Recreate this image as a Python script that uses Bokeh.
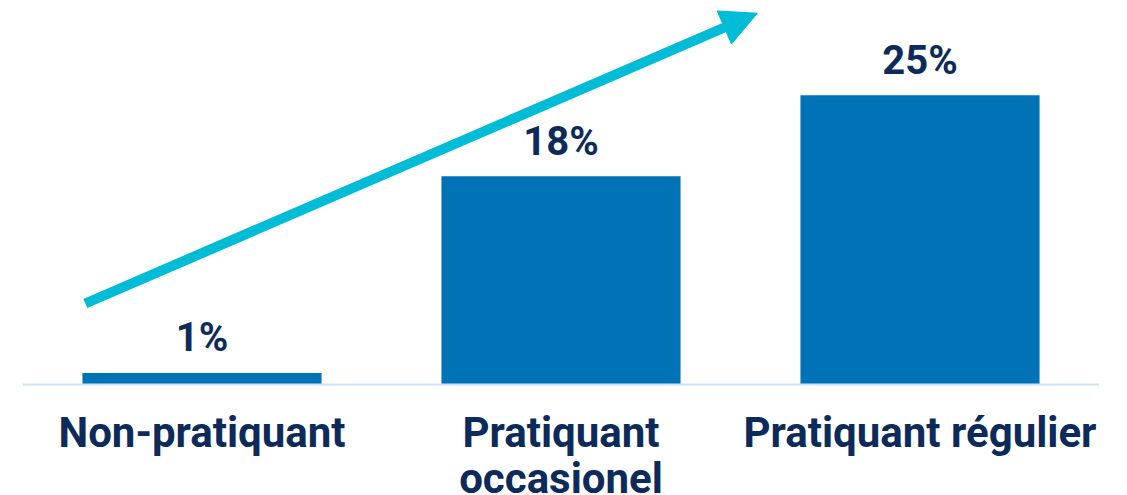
from bokeh.plotting import figure
from bokeh.models import FactorRange, Range1d, Span, Arrow, NormalHead, ColumnDataSource
from bokeh.core.properties import value
from bokeh.embed import file_html
from bokeh.resources import INLINE

# data
categories = ["Non-pratiquant", "Pratiquant occasionel", "Pratiquant régulier"]
tick_labels = ["Non-pratiquant", "Pratiquant\noccasionel", "Pratiquant régulier"]
values = [1, 18, 25]
value_labels = ["1%", "18%", "25%"]

BAR = "#0072b6"
ARROW = "#00bcd7"
TEXT = "#0c2b5b"
BASE = "#cfe2f7"
FONT = "Roboto"

src = ColumnDataSource(dict(cat=categories, val=values, lab=value_labels,
                            tick=tick_labels, zero=[0] * len(values)))

p = figure(width=1127, height=495, output_backend="svg", toolbar_location=None,
           x_range=FactorRange(factors=categories, range_padding=0),
           y_range=Range1d(-9.6, 33.2),
           min_border_left=22, min_border_right=28, min_border_top=0, min_border_bottom=0)
p.axis.visible = False
p.grid.visible = False
p.outline_line_color = None
p.background_fill_color = "white"
p.border_fill_color = "white"

p.vbar(x="cat", top="val", width=0.666, source=src, fill_color=BAR, line_color=None)
p.add_layout(Span(location=0, dimension="width", line_color=BASE, line_width=2))

p.text(x="cat", y="val", text="lab", source=src, y_offset=-35,
       text_align="center", text_baseline="alphabetic",
       text_font=value(FONT), text_font_style="bold", text_font_size="40px",
       text_color=TEXT)

p.text(x="cat", y="zero", text="tick", source=src, y_offset=24,
       text_align="center", text_baseline="top", text_line_height=0.92,
       text_font=value(FONT), text_font_style="bold", text_font_size="42px",
       text_color=TEXT)

p.add_layout(Arrow(x_start=0.175, y_start=7.0, x_end=2.047, y_end=32.1,
                   line_color=ARROW, line_width=10,
                   end=NormalHead(size=36, fill_color=ARROW, line_color=ARROW, line_width=1)))

open("out.html", "w").write(file_html(p, INLINE))
